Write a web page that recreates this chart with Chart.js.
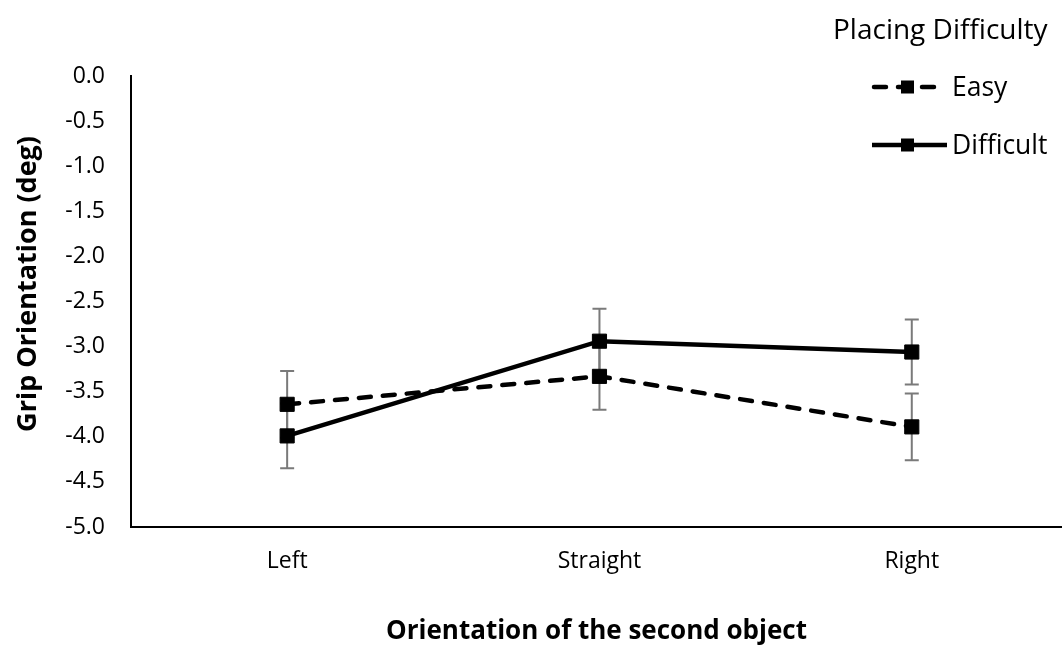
<!DOCTYPE html>
<html>
<head>
<meta charset="utf-8">
<script src="https://cdn.jsdelivr.net/npm/chart.js@4/dist/chart.umd.min.js"></script>
<style>
  html, body { margin: 0; padding: 0; background: #ffffff; }
  #wrap { width: 1062px; height: 647px; }
</style>
</head>
<body>
<div id="wrap"><canvas id="chart" width="1062" height="647"></canvas></div>
<script>
// Grip orientation by orientation of the second object, per placing difficulty
const categories = ['Left', 'Straight', 'Right'];
const easyMeans = [-3.64, -3.33, -3.89];
const easyErrors = [0.37, 0.37, 0.37];
const difficultMeans = [-3.99, -2.94, -3.06];
const difficultErrors = [0.36, 0.36, 0.36];
const seriesNames = ['Easy', 'Difficult'];
const legendTitle = 'Placing Difficulty';
const yTitle = 'Grip Orientation (deg)';
const xTitle = 'Orientation of the second object';
const yMin = -5.0;
const yMax = 0.0;
const yStep = 0.5;

const FONT = '"Open Sans", "Noto Sans", sans-serif';
const errorSets = [easyErrors, difficultErrors];

const toPoints = arr => arr.map((v, i) => ({ x: i, y: v }));

// Vertical error bars with caps, drawn beneath the lines and markers
const errorBars = {
  id: 'errorBars',
  beforeDatasetsDraw(chart) {
    const { ctx, scales: { x, y } } = chart;
    ctx.save();
    ctx.strokeStyle = '#7a7a7a';
    ctx.lineWidth = 2;
    chart.data.datasets.forEach((ds, di) => {
      const errs = errorSets[di];
      ds.data.forEach((p, i) => {
        const px = x.getPixelForValue(p.x);
        const top = y.getPixelForValue(p.y + errs[i]);
        const bot = y.getPixelForValue(p.y - errs[i]);
        ctx.beginPath();
        ctx.moveTo(px, top); ctx.lineTo(px, bot);
        ctx.moveTo(px - 7, top); ctx.lineTo(px + 7, top);
        ctx.moveTo(px - 7, bot); ctx.lineTo(px + 7, bot);
        ctx.stroke();
      });
    });
    ctx.restore();
  }
};

// Legend placed over the top-right of the plot
const cornerLegend = {
  id: 'cornerLegend',
  afterDraw(chart) {
    const { ctx } = chart;
    ctx.save();
    ctx.fillStyle = '#000';
    ctx.textBaseline = 'middle';
    ctx.textAlign = 'left';
    ctx.font = '28px ' + FONT;
    ctx.fillText(legendTitle, 833, 31);
    const rows = [87, 145];
    chart.data.datasets.forEach((ds, di) => {
      const yy = rows[di];
      ctx.strokeStyle = '#000';
      ctx.lineWidth = ds.borderWidth;
      ctx.lineCap = ds.borderCapStyle || 'butt';
      ctx.setLineDash(ds.borderDash || []);
      ctx.beginPath();
      if (ds.borderDash) {
        ctx.moveTo(874, yy); ctx.lineTo(935, yy);
      } else {
        ctx.moveTo(872, yy); ctx.lineTo(947, yy);
      }
      ctx.stroke();
      ctx.setLineDash([]);
      ctx.fillRect(901, yy - 6.5, 13, 13);
      ctx.font = '26.5px ' + FONT;
      ctx.fillText(ds.label, 952, yy + 1);
    });
    ctx.restore();
  }
};

new Chart(document.getElementById('chart'), {
  type: 'line',
  data: {
    datasets: [
      {
        label: seriesNames[0],
        data: toPoints(easyMeans),
        borderColor: '#000',
        backgroundColor: '#000',
        borderWidth: 4.5,
        borderDash: [12, 12],
        borderCapStyle: 'round',
        pointStyle: 'rect',
        pointRadius: 10,
        pointBorderWidth: 1,
        pointBackgroundColor: '#000',
        pointBorderColor: '#000',
        tension: 0
      },
      {
        label: seriesNames[1],
        data: toPoints(difficultMeans),
        borderColor: '#000',
        backgroundColor: '#000',
        borderWidth: 4.5,
        pointStyle: 'rect',
        pointRadius: 10,
        pointBorderWidth: 1,
        pointBackgroundColor: '#000',
        pointBorderColor: '#000',
        tension: 0
      }
    ]
  },
  options: {
    responsive: false,
    animation: false,
    devicePixelRatio: 1,
    layout: { autoPadding: false, padding: { top: 76, right: 0, bottom: 0, left: 0 } },
    plugins: {
      legend: { display: false },
      tooltip: { enabled: false },
      title: { display: false }
    },
    scales: {
      x: {
        type: 'linear',
        min: -0.5,
        max: 2.481,
        afterBuildTicks(scale) {
          scale.ticks = categories.map((_, i) => ({ value: i }));
        },
        afterFit(scale) { scale.height = 120; },
        grid: { display: false, drawTicks: false },
        border: { display: true, color: '#000', width: 2 },
        ticks: {
          autoSkip: false,
          maxRotation: 0,
          padding: 21,
          color: '#000',
          font: { family: FONT, size: 23 },
          callback: v => categories[v] ?? ''
        },
        title: {
          display: true,
          text: xTitle,
          color: '#000',
          font: { family: FONT, size: 26, weight: 'bold' },
          padding: { top: 0, bottom: 0 }
        }
      },
      y: {
        min: yMin,
        max: yMax,
        afterFit(scale) { scale.width = 131; },
        grid: { display: false, drawTicks: false },
        border: { display: true, color: '#000', width: 2 },
        ticks: {
          stepSize: yStep,
          padding: 26,
          color: '#000',
          font: { family: FONT, size: 23 },
          callback: v => Number(v).toFixed(1)
        },
        title: {
          display: true,
          // leading spaces lift the rotated title slightly above the axis centre
          text: '\u00a0\u00a0\u00a0\u00a0\u00a0' + yTitle,
          color: '#000',
          font: { family: FONT, size: 27, weight: 'bold' },
          padding: { top: 12, bottom: 0 }
        }
      }
    }
  },
  plugins: [errorBars, cornerLegend]
});
</script>
</body>
</html>
